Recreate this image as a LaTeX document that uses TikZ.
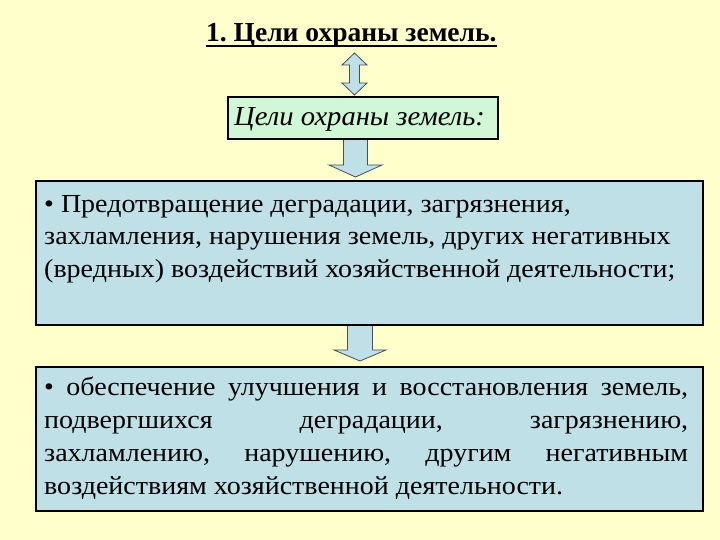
\documentclass[tikz,border=0pt]{standalone}
\usepackage{fontspec}
\setmainfont{Liberation Serif}
\newfontfamily\bodyfont[FakeStretch=1.077]{Liberation Serif}
\newfontfamily\goalfont[FakeStretch=1.04]{Liberation Serif}
\frenchspacing
\definecolor{bg}{RGB}{255,255,204}
\definecolor{boxblue}{RGB}{190,224,230}
\definecolor{boxgreen}{RGB}{208,247,214}
\definecolor{arrowline}{RGB}{70,80,90}
\newcommand\jline[1]{\makebox[644pt][s]{#1}}
\begin{document}
\begin{tikzpicture}[x=1pt,y=-1pt,
  box/.style={draw=black, line width=2pt, inner sep=0pt, anchor=north west},
  blockarrow/.style={draw=arrowline, line width=0.8pt, fill=boxblue, line join=miter},
  txt/.style={inner sep=0pt, anchor=base west}]
\fill[bg] (0,0) rectangle (720,540);
\useasboundingbox (0,0) rectangle (720,540);

% title
\node[txt, font=\fontsize{27.5}{32}\selectfont\bfseries] (title) at (206,42) {1. Цели охраны земель.};
\draw[line width=1.8pt] ([yshift=-4pt]title.base west) -- ([yshift=-4pt]title.base east);

% arrows (drawn first, under the boxes)
\draw[blockarrow] (354.5,53) -- (367,65) -- (359.5,65) -- (359.5,83) -- (367,83) -- (354.5,95)
  -- (342,83) -- (349.5,83) -- (349.5,65) -- (342,65) -- cycle;
\draw[blockarrow] (343.5,137) -- (367.5,137) -- (367.5,165) -- (382,165) -- (355.5,177)
  -- (329,165) -- (343.5,165) -- cycle;
\draw[blockarrow] (347.5,324) -- (372.5,324) -- (372.5,350) -- (386,350) -- (360,361)
  -- (334,350) -- (347.5,350) -- cycle;

% box 1
\node[box, fill=boxgreen, minimum width=270pt, minimum height=42pt] (goal) at (227,96) {};
\node[txt, font=\goalfont\fontsize{27.5}{32}\selectfont\itshape] (goaltext) at (234,126) {Цели охраны земель:};

% box 2
\node[box, fill=boxblue, minimum width=667pt, minimum height=144pt] (prevent) at (35,180) {};
\node[txt, align=left, font=\bodyfont\fontsize{26}{32.5}\selectfont] (preventtext) at (44,277)
 {• Предотвращение деградации, загрязнения,\\
  захламления, нарушения земель, других негативных\\
  (вредных) воздействий хозяйственной деятельности;};

% box 3
\node[box, fill=boxblue, minimum width=667pt, minimum height=144pt] (restore) at (35,366) {};
\node[txt, align=left, font=\bodyfont\fontsize{26}{33}\selectfont] (restoretext) at (44,494)
 {\jline{• обеспечение улучшения и восстановления земель,}\\
  \jline{подвергшихся деградации, загрязнению,}\\
  \jline{захламлению, нарушению, другим негативным}\\
  воздействиям хозяйственной деятельности.};
\end{tikzpicture}
\end{document}
